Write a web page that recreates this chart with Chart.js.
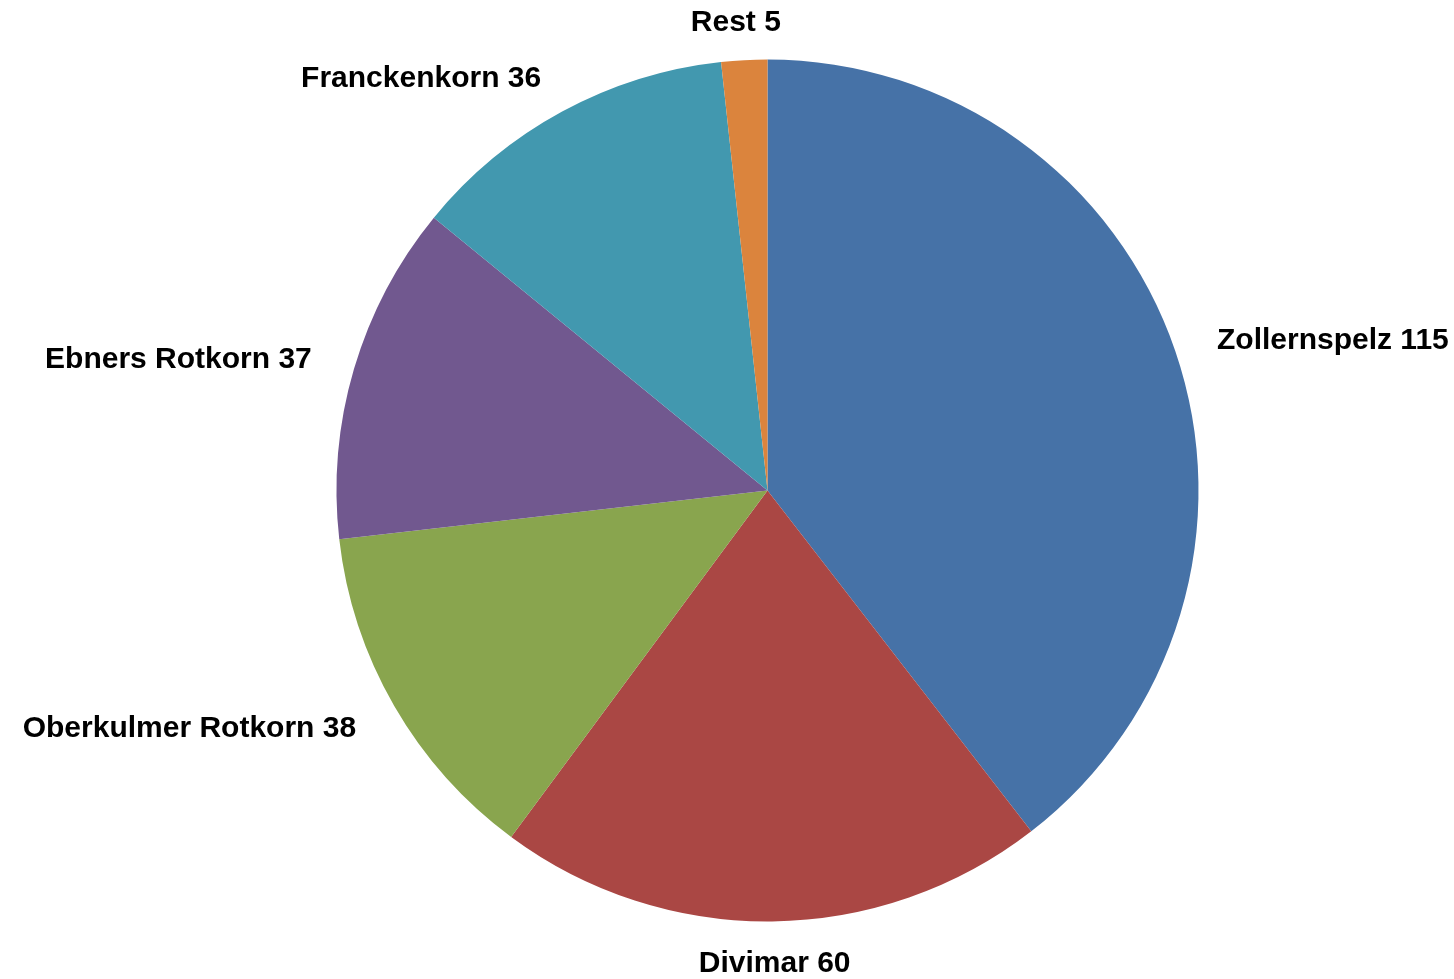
<!DOCTYPE html>
<html>
<head>
<meta charset="utf-8">
<style>
  html, body { margin: 0; padding: 0; background: #ffffff; }
  #wrap { width: 1454px; height: 979px; }
</style>
<script src="https://cdn.jsdelivr.net/npm/chart.js@4.4.1/dist/chart.umd.min.js"></script>
</head>
<body>
<div id="wrap"><canvas id="pie" width="1454" height="979"></canvas></div>
<script>
// Varieties and their counts, drawn clockwise from 12 o'clock
const categories = ['Zollernspelz', 'Divimar', 'Oberkulmer Rotkorn', 'Ebners Rotkorn', 'Franckenkorn', 'Rest'];
const counts = [115, 60, 38, 37, 36, 5];
const sliceColors = ['#4672A7', '#AA4744', '#89A54E', '#71588F', '#4298AF', '#DB843D'];

const LABEL_FONT_PX = 30;
const LABEL_GAP_X = 44;   // horizontal distance of label anchor beyond the rim
const LABEL_GAP_Y = 29;   // vertical distance of label anchor beyond the rim

// Outside-end labels: anchored on the slice's mid-angle ray, the box shifts
// so that its nearest edge/corner faces the pie.
const outsideLabels = {
  id: 'outsideLabels',
  afterDatasetsDraw(chart) {
    const ctx = chart.ctx;
    const meta = chart.getDatasetMeta(0);
    ctx.save();
    ctx.font = 'bold ' + LABEL_FONT_PX + 'px "Liberation Sans", Arial, sans-serif';
    ctx.fillStyle = '#000000';
    ctx.textAlign = 'left';
    ctx.textBaseline = 'alphabetic';
    const capH = LABEL_FONT_PX * 0.716;
    const clamp = v => Math.max(-1, Math.min(1, v));
    meta.data.forEach((arc, i) => {
      const p = arc.getProps(['x', 'y', 'startAngle', 'endAngle', 'outerRadius'], true);
      const mid = (p.startAngle + p.endAngle) / 2;
      const dx = Math.cos(mid), dy = Math.sin(mid);
      const ax = p.x + dx * (p.outerRadius + LABEL_GAP_X);
      const ay = p.y + dy * (p.outerRadius + LABEL_GAP_Y);
      const text = categories[i] + ' ' + counts[i];
      const w = ctx.measureText(text).width;
      const cx = ax + (w / 2) * clamp(dx * 2.5);
      const cy = ay + (capH / 2) * clamp(dy * 1.0);
      ctx.fillText(text, cx - w / 2, cy + capH / 2);
    });
    ctx.restore();
  }
};

new Chart(document.getElementById('pie'), {
  type: 'pie',
  data: {
    labels: categories,
    datasets: [{
      data: counts,
      backgroundColor: sliceColors,
      borderWidth: 0,
      hoverOffset: 0
    }]
  },
  options: {
    responsive: false,
    animation: false,
    layout: { padding: { left: 336.5, right: 255.5, top: 59.5, bottom: 57.5 } },
    plugins: {
      legend: { display: false },
      tooltip: { enabled: false }
    }
  },
  plugins: [outsideLabels]
});
</script>
</body>
</html>
